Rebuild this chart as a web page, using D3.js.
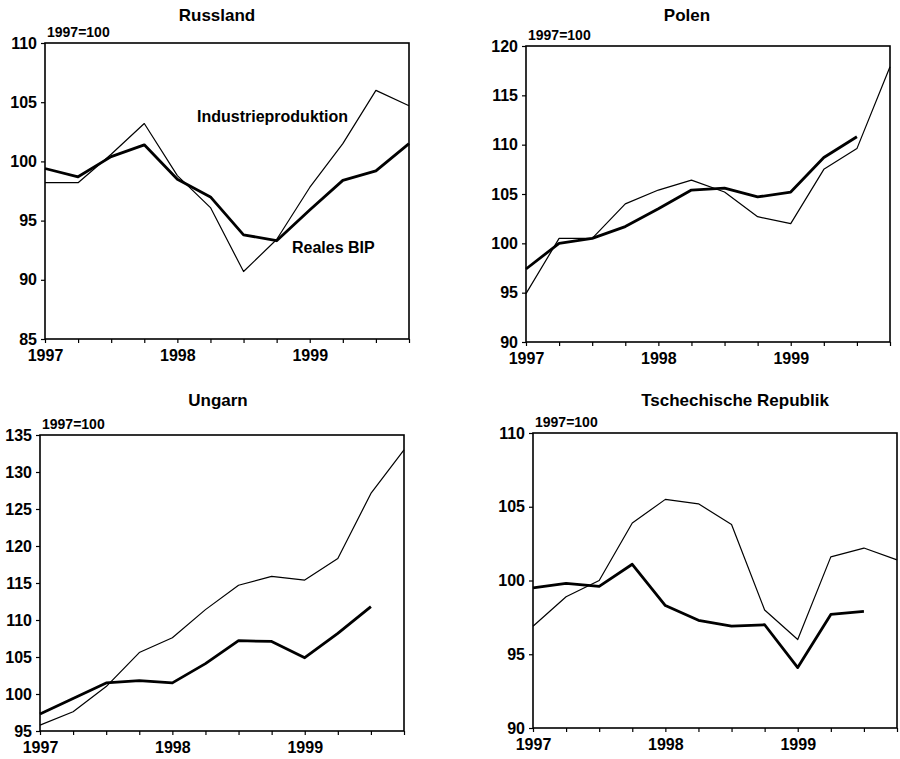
<!DOCTYPE html>
<html>
<head>
<meta charset="utf-8">
<script src="https://cdn.jsdelivr.net/npm/d3@7"></script>
<style>
  body { margin: 0; background: #fff; }
  text { font-family: "Liberation Sans", Arial, sans-serif; fill: #000; }
</style>
</head>
<body>
<svg id="chart" width="900" height="759"></svg>
<script>
// quarterly data, 1997 = 100
const quarters   = ["97Q1","97Q2","97Q3","97Q4","98Q1","98Q2","98Q3","98Q4","99Q1","99Q2","99Q3","99Q4"];
const yearLabels = ["1997", "1998", "1999"];
const baseLabel  = "1997=100";

const countries  = ["Russland", "Polen", "Ungarn", "Tschechische Republik"];
const yDomains   = [[85, 110], [90, 120], [95, 135], [90, 110]];

const bipRussland = [99.4, 98.7, 100.4, 101.4, 98.5, 97.0, 93.8, 93.3, 95.9, 98.4, 99.2, 101.5];
const indRussland = [98.2, 98.2, 100.6, 103.2, 98.8, 96.1, 90.7, 93.4, 97.8, 101.5, 106.0, 104.7];

const bipPolen = [97.4, 100.0, 100.5, 101.7, 103.5, 105.4, 105.6, 104.7, 105.2, 108.7, 110.8];
const indPolen = [94.9, 100.5, 100.5, 104.0, 105.4, 106.4, 105.2, 102.7, 102.0, 107.5, 109.6, 117.9];

const bipUngarn = [97.3, 99.4, 101.5, 101.8, 101.5, 104.1, 107.2, 107.1, 104.9, 108.2, 111.8];
const indUngarn = [95.8, 97.6, 101.0, 105.6, 107.6, 111.4, 114.7, 115.9, 115.4, 118.3, 127.1, 133.0];

const bipTschechien = [99.5, 99.8, 99.6, 101.1, 98.3, 97.3, 96.9, 97.0, 94.1, 97.7, 97.9];
const indTschechien = [96.9, 98.9, 100.0, 103.9, 105.5, 105.2, 103.8, 98.0, 96.0, 101.6, 102.2, 101.4];

const bipSeries = [bipRussland, bipPolen, bipUngarn, bipTschechien];
const indSeries = [indRussland, indPolen, indUngarn, indTschechien];

const seriesLabels = ["Industrieproduktion", "Reales BIP"];

// panel frames (pixels)
const panels = [
  {left: 45,  top: 43,  bottom: 339, titleX: 217, titleY: 21},
  {left: 526, top: 46,  bottom: 342, titleX: 687, titleY: 21},
  {left: 40,  top: 435, bottom: 731, titleX: 218, titleY: 406},
  {left: 533, top: 433, bottom: 728, titleX: 735, titleY: 406}
];
const plotWidth = 364;

const svg = d3.select("#chart");

function styleTicks(a) {
  a.select(".domain").remove();
  a.selectAll("line").attr("stroke-width", 1.2);
  a.selectAll("text")
    .style("font-family", "'Liberation Sans', Arial, sans-serif")
    .style("font-size", "16px").style("font-weight", "bold");
}

panels.forEach((p, i) => {
  const g = svg.append("g");
  const right = p.left + plotWidth;

  const x = d3.scalePoint().domain(quarters).range([p.left, right]);
  const y = d3.scaleLinear().domain(yDomains[i]).range([p.bottom, p.top]);

  g.append("text")
    .attr("x", p.titleX).attr("y", p.titleY)
    .attr("text-anchor", "middle")
    .style("font-size", "17px").style("font-weight", "bold")
    .text(countries[i]);

  g.append("text")
    .attr("x", p.left + 2).attr("y", p.top - 6)
    .style("font-size", "14px").style("font-weight", "bold")
    .text(baseLabel);

  // y axis
  g.append("g")
    .attr("transform", `translate(${p.left},0)`)
    .call(d3.axisLeft(y)
      .tickValues(d3.range(yDomains[i][0], yDomains[i][1] + 1, 5))
      .tickSize(4).tickPadding(4))
    .call(styleTicks);

  // x axis: a tick each quarter, label each year
  const yearOf = q => yearLabels.find(yr => yr.endsWith(q.slice(0, 2)));
  g.append("g")
    .attr("transform", `translate(0,${p.bottom})`)
    .call(d3.axisBottom(x)
      .tickSize(4).tickPadding(7)
      .tickFormat(q => q.endsWith("Q1") ? yearOf(q) : ""))
    .call(styleTicks);

  // frame
  g.append("rect")
    .attr("x", p.left).attr("y", p.top)
    .attr("width", plotWidth).attr("height", p.bottom - p.top)
    .attr("fill", "none").attr("stroke", "#000").attr("stroke-width", 1.6);

  const line = d3.line()
    .x((d, k) => x(quarters[k]))
    .y(d => y(d));

  g.append("path")
    .datum(indSeries[i])
    .attr("d", line)
    .attr("fill", "none").attr("stroke", "#000")
    .attr("stroke-width", 1.2).attr("stroke-linejoin", "round");

  g.append("path")
    .datum(bipSeries[i])
    .attr("d", line)
    .attr("fill", "none").attr("stroke", "#000")
    .attr("stroke-width", 2.8).attr("stroke-linejoin", "round");

  if (i === 0) {
    g.append("text")
      .attr("x", 197).attr("y", 122)
      .style("font-size", "16px").style("font-weight", "bold")
      .text(seriesLabels[0]);
    g.append("text")
      .attr("x", 292).attr("y", 253)
      .style("font-size", "16px").style("font-weight", "bold")
      .text(seriesLabels[1]);
  }
});
</script>
</body>
</html>
